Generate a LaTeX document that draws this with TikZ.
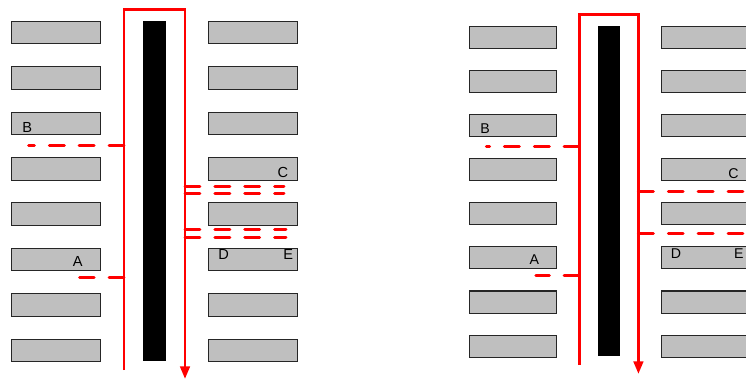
\documentclass[tikz,border=0pt]{standalone}
\usepackage{fontspec}
\setmainfont{Liberation Sans}
\usetikzlibrary{arrows.meta,positioning}
\tikzset{
  slot/.style={draw=black!85, fill=black!25, line width=0.6pt, inner sep=0pt,
    minimum width=1.78cm, minimum height=0.454cm, anchor=north west},
  pillar/.style={fill=black, inner sep=0pt, minimum width=0.454cm,
    minimum height=6.8cm, anchor=north west},
  lane/.style={red, line width=1.7pt, -{Triangle[length=7.2pt,width=5.4pt]}},
  feeder/.style={red, line width=1.7pt, line cap=round, dash pattern=on 8.5pt off 8.5pt},
  spot/.style={font=\fontsize{8.3}{10}\selectfont, inner sep=0pt},
}
\begin{document}
\begin{tikzpicture}[x=0.02cm, y=-0.02cm]
\useasboundingbox (0,0) rectangle (746,380);
\clip (0,0) rectangle (746,380);
% left panel
\begin{scope}
\foreach \i in {1,...,8} {
  \node[slot] (aL\i) at (11,{20.7+45.4*(\i-1)}) {};
  \node[slot] (aR\i) at (208.3,{20.7+45.4*(\i-1)}) {};
}
\node[pillar] (abar) at (143,20.7) {};
\coordinate (ain) at (124,370);
\coordinate (atl) at (124,9);
\coordinate (atr) at (185,9);
\coordinate (aout) at (185,379);
\draw[lane] (ain) -- (atl) -- (atr) -- (aout);
\coordinate (ajB) at (124,145.3);  \coordinate (aeB) at (28.5,145.3);
\coordinate (ajA) at (124,277.3);  \coordinate (aeA) at (79.5,277.3);
\coordinate (aj1) at (185,186);    \coordinate (ae1) at (284,186);
\coordinate (aj2) at (185,193.3);  \coordinate (ae2) at (284,193.3);
\coordinate (aj3) at (185,229.3);  \coordinate (ae3) at (286,229.3);
\coordinate (aj4) at (185,237.7);  \coordinate (ae4) at (286,237.7);
\draw[feeder] (ajB) -- (aeB);
\draw[feeder] (ajA) -- (aeA);
\foreach \k in {1,...,4} \draw[feeder] (aj\k) -- (ae\k);
\node[spot] (aB) at (27.2,127) {B};
\node[spot] (aC) at (282.8,172.7) {C};
\node[spot] (aA) at (77.8,261.8) {A};
\node[spot] (aD) at (223.7,254.8) {D};
\node[spot] (aE) at (288.3,254.8) {E};
\end{scope}
% right panel
\begin{scope}[shift={(458.6,5.6)}, scale=0.972, transform shape]
\foreach \i in {1,...,8} {
  \node[slot] (bL\i) at (11,{20.7+45.4*(\i-1)}) {};
  \node[slot] (bR\i) at (208.3,{20.7+45.4*(\i-1)}) {};
}
\node[pillar] (bbar) at (143,20.7) {};
\coordinate (bin) at (124,370);
\coordinate (btl) at (124,9);
\coordinate (btr) at (185,9);
\coordinate (bout) at (185,379);
\draw[lane] (bin) -- (btl) -- (btr) -- (bout);
\coordinate (bjB) at (124,145.3);  \coordinate (beB) at (28.5,145.3);
\coordinate (bjA) at (124,277.3);  \coordinate (beA) at (79.5,277.3);
\coordinate (bj1) at (185,191.6);  \coordinate (be1) at (305,191.6);
\coordinate (bj2) at (185,234.4);  \coordinate (be2) at (305,234.4);
\draw[feeder] (bjB) -- (beB);
\draw[feeder] (bjA) -- (beA);
\draw[feeder] (bj1) -- (be1);
\draw[feeder] (bj2) -- (be2);
\node[spot] (bB) at (27.2,127) {B};
\node[spot] (bC) at (282.8,172.7) {C};
\node[spot] (bA) at (77.8,261.8) {A};
\node[spot] (bD) at (223.7,254.8) {D};
\node[spot] (bE) at (288.3,254.8) {E};
\end{scope}
\end{tikzpicture}
\end{document}
